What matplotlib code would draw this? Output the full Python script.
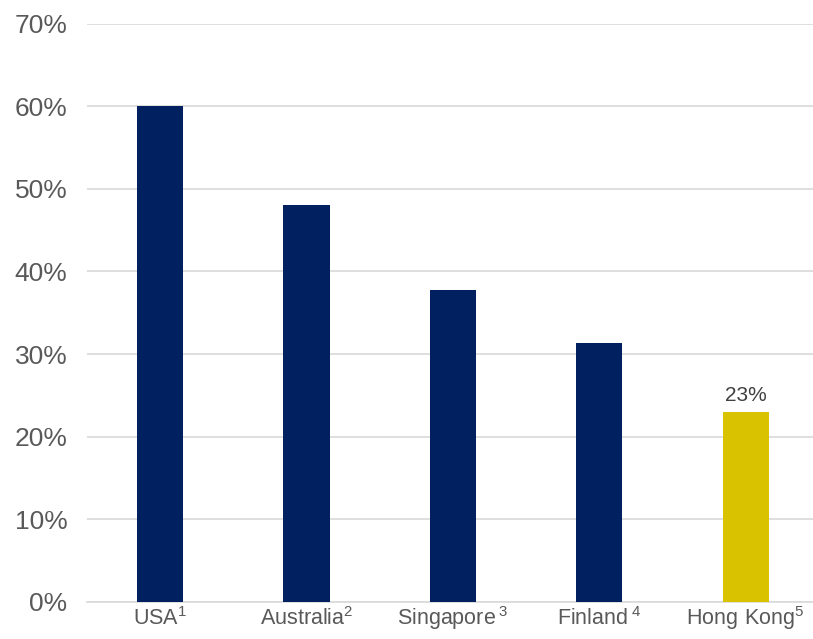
import matplotlib
matplotlib.use("Agg")
import matplotlib.pyplot as plt

plt.rcParams['font.family'] = ['Liberation Sans', 'DejaVu Sans']
plt.rcParams['mathtext.fontset'] = 'custom'
plt.rcParams['mathtext.rm'] = 'Liberation Sans'

countries = ['USA', 'Australia', 'Singapore', 'Finland', 'Hong Kong']
notes = ['^1', '^2', '\\,^3', '\\,^4', '^5']
shares = [0.60, 0.48, 0.378, 0.314, 0.23]
colors = ['#002060', '#002060', '#002060', '#002060', '#D9C300']
yticks = [0, 0.1, 0.2, 0.3, 0.4, 0.5, 0.6, 0.7]

fig = plt.figure(figsize=(8.13, 6.39), dpi=100)
ax = fig.add_axes([0.107, 0.058, 0.893, 0.905])

x = range(len(countries))
bars = ax.bar(x, shares, width=0.315, color=colors, zorder=3)

ax.set_ylim(0, 0.7)
ax.set_xlim(-0.5, 4.46)
ax.set_yticks(yticks)
ax.set_yticklabels(['{:.0f}%'.format(v * 100) for v in yticks])
ax.yaxis.grid(True, color='#d9d9d9', linewidth=1.2, zorder=0)
ax.tick_params(axis='y', length=0, pad=14, labelsize=19, labelcolor='#595959')

labels = []
for name, n in zip(countries, notes):
    labels.append('$\\mathregular{' + name.replace(' ', '\\ ') + n + '}$')
ax.set_xticks(list(x))
ax.set_xticklabels(labels)
ax.tick_params(axis='x', length=0, pad=16.5, labelsize=15.5, labelcolor='#595959')
for lbl in ax.get_xticklabels():
    lbl.set_va('baseline')

for s in ['top', 'right', 'left']:
    ax.spines[s].set_visible(False)
ax.spines['bottom'].set_color('#d9d9d9')
ax.spines['bottom'].set_linewidth(1.2)

ax.text(4, shares[4] + 0.008, '23%', ha='center', va='bottom', fontsize=15, color='#404040')

fig.savefig('out.png', dpi=100)
